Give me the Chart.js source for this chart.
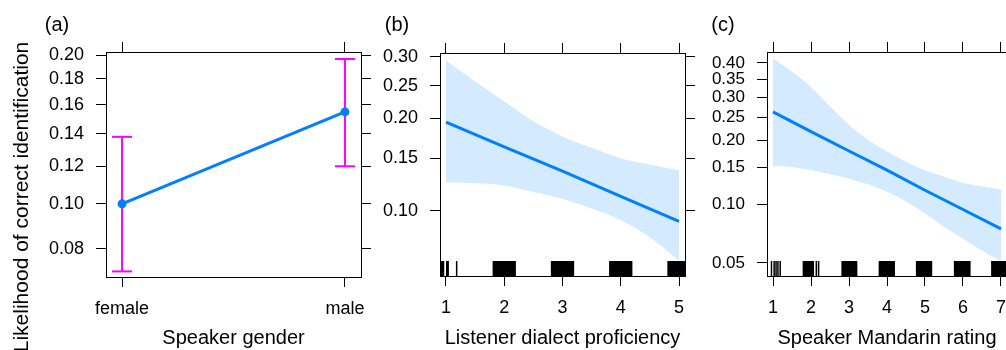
<!DOCTYPE html>
<html>
<head>
<meta charset="utf-8">
<script src="https://cdn.jsdelivr.net/npm/chart.js@4.4.0/dist/chart.umd.min.js"></script>
<style>
  html, body { margin: 0; padding: 0; background: #fff; }
  body { width: 1006px; height: 350px; overflow: hidden; position: relative; }
  canvas { position: absolute; top: 0; }
</style>
</head>
<body>
<canvas id="chartA" width="380" height="350" style="left:0px"></canvas>
<canvas id="chartB" width="330" height="350" style="left:370px"></canvas>
<canvas id="chartC" width="320" height="350" style="left:700px"></canvas>
<script>
// (a) speaker gender
const genderLabels = ["female", "male"];
const genderFit = [0.100, 0.155];
const genderLower = [0.0714, 0.120];
const genderUpper = [0.138, 0.1966];
const genderTicks = [0.08, 0.10, 0.12, 0.14, 0.16, 0.18, 0.20];

// (b) listener dialect proficiency
const dialectX = [1, 2, 3, 4, 5];
const dialectFit = [0.195, 0.163, 0.136, 0.112, 0.092];
const dialectBandX = [1, 1.5, 2, 2.5, 3, 3.5, 4, 4.5, 5];
const dialectUpper = [0.293, 0.257, 0.225, 0.196, 0.176, 0.162, 0.150, 0.143, 0.137];
const dialectLower = [0.125, 0.124, 0.122, 0.116, 0.110, 0.102, 0.093, 0.081, 0.067];
const dialectTicks = [0.10, 0.15, 0.20, 0.25, 0.30];
const dialectRug = [[0.91, 0.97], [1.0, 1.05], [1.17, 1.19], [1.8, 2.2], [2.8, 3.2], [3.8, 4.2], [4.8, 5.2]];

// (c) speaker Mandarin rating
const ratingX = [1, 2, 3, 4, 5, 6, 7];
const ratingFit = [0.264, 0.218, 0.179, 0.146, 0.117, 0.094, 0.075];
const ratingBandX = [1, 1.5, 2, 2.5, 3, 3.5, 4, 4.5, 5, 5.5, 6, 6.5, 7];
const ratingUpper = [0.414, 0.374, 0.329, 0.277, 0.233, 0.201, 0.178, 0.160, 0.146, 0.136, 0.127, 0.122, 0.118];
const ratingLower = [0.153, 0.151, 0.146, 0.140, 0.133, 0.125, 0.115, 0.103, 0.090, 0.077, 0.067, 0.058, 0.051];
const ratingTicks = [0.05, 0.10, 0.15, 0.20, 0.25, 0.30, 0.35, 0.40];
const ratingRug = [[0.94, 0.97], [1.01, 1.03], [1.06, 1.08], [1.11, 1.13], [1.17, 1.20],
  [1.78, 2.08], [2.12, 2.15], [2.18, 2.19], [2.80, 3.22], [3.78, 4.21], [4.76, 5.19], [5.76, 6.20], [6.74, 7.2]];

const blue = "#0080ff";
const band = "rgba(0,128,255,0.17)";

Chart.defaults.font.family = "'Liberation Sans', Arial, Helvetica, sans-serif";
Chart.defaults.color = "#000";

function logit(p) { return Math.log(p / (1 - p)); }
function invLogit(v) { return 1 / (1 + Math.exp(-v)); }

// free text drawn on the canvas (panel letters, y title)
function textPlugin(items) {
  return {
    id: "panelText",
    afterDraw(chart) {
      const ctx = chart.ctx;
      items.forEach(it => {
        ctx.save();
        ctx.font = it.size + "px 'Liberation Sans', Arial, sans-serif";
        ctx.fillStyle = "#000";
        ctx.textAlign = "center";
        ctx.textBaseline = "alphabetic";
        ctx.translate(it.x, it.y);
        if (it.rotate) ctx.rotate(it.rotate);
        ctx.fillText(it.text, 0, 0);
        ctx.restore();
      });
    }
  };
}

// rug of observations along the bottom of the panel
function rugPlugin(intervals) {
  return {
    id: "rug",
    beforeDatasetsDraw(chart) {
      const { ctx, chartArea, scales } = chart;
      ctx.save();
      ctx.beginPath();
      ctx.rect(chartArea.left, chartArea.top, chartArea.right - chartArea.left, chartArea.bottom - chartArea.top);
      ctx.clip();
      ctx.fillStyle = "#000";
      intervals.forEach(([a, b]) => {
        const x0 = scales.x.getPixelForValue(a);
        const x1 = scales.x.getPixelForValue(b);
        ctx.fillRect(x0, chartArea.bottom - 15, Math.max(x1 - x0, 1.5), 15);
      });
      ctx.restore();
    }
  };
}

function buildScales(c) {
  const yT = c.yTicks.map(logit);
  const setX = s => { s.ticks = c.xTicks.map(v => ({ value: v })); };
  const setY = s => { s.ticks = yT.map(v => ({ value: v })); };
  const grid = { display: true, drawOnChartArea: false, drawTicks: true, tickLength: 10, color: "#000", lineWidth: 1 };
  const border = { display: true, color: "#000", width: 1 };
  return {
    x: {
      type: "linear", position: "bottom", min: c.xMin, max: c.xMax,
      afterBuildTicks: setX, afterFit: s => { s.height = c.bottom; },
      grid: grid, border: border,
      ticks: { autoSkip: false, maxRotation: 0, padding: 11, font: { size: 18 }, callback: c.xFormat },
      title: { display: true, text: c.xTitle, font: { size: 20 }, padding: { top: 0, bottom: 0 } }
    },
    x2: {
      type: "linear", position: "top", min: c.xMin, max: c.xMax,
      afterBuildTicks: setX, afterFit: s => { s.height = c.top; },
      grid: grid, border: border, ticks: { display: false }
    },
    y: {
      type: "linear", position: "left", min: logit(c.yMin), max: logit(c.yMax),
      afterBuildTicks: setY, afterFit: s => { s.width = c.left; },
      grid: grid, border: border,
      ticks: { autoSkip: false, padding: 12, font: { size: c.yFont }, callback: v => invLogit(v).toFixed(2) }
    },
    y2: {
      type: "linear", position: "right", min: logit(c.yMin), max: logit(c.yMax),
      afterBuildTicks: setY, afterFit: s => { s.width = c.right; },
      grid: grid, border: border, ticks: { display: false }
    }
  };
}

const baseOptions = {
  responsive: false,
  animation: false,
  events: [],
  layout: { padding: 0 },
  plugins: { legend: { display: false }, tooltip: { enabled: false } }
};

// ---- panel (a)
const ciSets = genderLabels.map((g, i) => ({
  data: [{ x: i + 1, y: logit(genderLower[i]) }, { x: i + 1, y: logit(genderUpper[i]) }],
  borderColor: "#ff00ff", borderWidth: 2,
  pointStyle: "line", pointRadius: 10, pointBorderColor: "#ff00ff", pointBorderWidth: 2,
  fill: false, order: 2
}));

new Chart(document.getElementById("chartA"), {
  type: "line",
  data: {
    datasets: [{
      data: genderLabels.map((g, i) => ({ x: i + 1, y: logit(genderFit[i]) })),
      borderColor: blue, borderWidth: 3,
      pointRadius: 4.5, pointBackgroundColor: blue, pointBorderWidth: 0,
      fill: false, order: 1
    }].concat(ciSets)
  },
  options: Object.assign({}, baseOptions, {
    scales: buildScales({
      xMin: 0.928, xMax: 2.072, xTicks: [1, 2], xFormat: v => genderLabels[Math.round(v) - 1],
      xTitle: "Speaker gender",
      yMin: 0.0694, yMax: 0.2027, yTicks: genderTicks, yFont: 18,
      left: 106, right: 19, top: 52, bottom: 73
    })
  }),
  plugins: [textPlugin([
    { text: "(a)", x: 57, y: 31, size: 20 },
    { text: "Likelihood of correct identification", x: 28, y: 197, size: 21, rotate: -Math.PI / 2 }
  ])]
});

// ---- panel (b)
function bandSets(xs, up, lo) {
  return [
    {
      data: xs.map((x, i) => ({ x: x, y: logit(up[i]) })),
      borderWidth: 0, borderColor: "rgba(0,0,0,0)", pointRadius: 0,
      backgroundColor: band, fill: "+1", cubicInterpolationMode: "monotone", order: 3
    },
    {
      data: xs.map((x, i) => ({ x: x, y: logit(lo[i]) })),
      borderWidth: 0, borderColor: "rgba(0,0,0,0)", pointRadius: 0,
      fill: false, cubicInterpolationMode: "monotone", order: 3
    }
  ];
}

new Chart(document.getElementById("chartB"), {
  type: "line",
  data: {
    datasets: bandSets(dialectBandX, dialectUpper, dialectLower).concat([{
      data: dialectX.map((x, i) => ({ x: x, y: logit(dialectFit[i]) })),
      borderColor: blue, borderWidth: 3, pointRadius: 0, fill: false, order: 1
    }])
  },
  options: Object.assign({}, baseOptions, {
    scales: buildScales({
      xMin: 0.897, xMax: 5.103, xTicks: dialectX, xFormat: v => String(v),
      xTitle: "Listener dialect proficiency",
      yMin: 0.0591, yMax: 0.3074, yTicks: dialectTicks, yFont: 18,
      left: 70, right: 15, top: 53, bottom: 74
    })
  }),
  plugins: [rugPlugin(dialectRug), textPlugin([{ text: "(b)", x: 27, y: 31, size: 20 }])]
});

// ---- panel (c)
new Chart(document.getElementById("chartC"), {
  type: "line",
  data: {
    datasets: bandSets(ratingBandX, ratingUpper, ratingLower).concat([{
      data: ratingX.map((x, i) => ({ x: x, y: logit(ratingFit[i]) })),
      borderColor: blue, borderWidth: 3, pointRadius: 0, fill: false, order: 1
    }])
  },
  options: Object.assign({}, baseOptions, {
    scales: buildScales({
      xMin: 0.842, xMax: 7.158, xTicks: ratingX, xFormat: v => String(v),
      xTitle: "Speaker Mandarin rating",
      yMin: 0.0427, yMax: 0.4339, yTicks: ratingTicks, yFont: 17,
      left: 67, right: 13, top: 52, bottom: 74
    })
  }),
  plugins: [rugPlugin(ratingRug), textPlugin([{ text: "(c)", x: 23, y: 31, size: 20 }])]
});
</script>
</body>
</html>
